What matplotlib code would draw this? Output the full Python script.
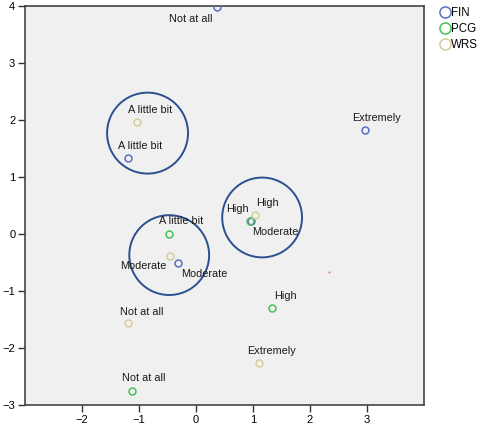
import matplotlib
matplotlib.use("Agg")
import matplotlib.pyplot as plt
from matplotlib.patches import Circle
from matplotlib.lines import Line2D

plt.rcParams['font.family'] = ['Liberation Sans', 'DejaVu Sans']

# Category points per variable (dimension 1, dimension 2)
fin_x = [0.36, 2.96, -1.20, -0.32, 0.96]
fin_y = [3.98, 1.82, 1.33, -0.50, 0.23]
pcg_x = [-0.48, 0.94, 1.34, -1.12]
pcg_y = [0.00, 0.23, -1.30, -2.75]
wrs_x = [-1.04, 1.04, -0.45, -1.19, 1.10]
wrs_y = [1.96, 0.34, -0.38, -1.57, -2.27]

# Category labels and their positions
label_text = ["Not at all", "Extremely", "A little bit", "A little bit", "A little bit",
              "High", "High", "Moderate", "Moderate", "Moderate",
              "High", "Not at all", "Extremely", "Not at all"]
label_x = [-0.10, 3.16, -0.81, -0.98, -0.26, 0.72, 1.26, 1.39, -0.93, 0.15,
           1.57, -0.96, 1.33, -0.91]
label_y = [3.77, 2.03, 2.18, 1.55, 0.23, 0.43, 0.55, 0.03, -0.57, -0.70,
           -1.08, -1.36, -2.05, -2.53]

# Cluster outlines (center x, center y, radius)
cluster_x = [-0.85, 1.16, -0.47]
cluster_y = [1.77, 0.29, -0.37]
cluster_r = [0.71, 0.70, 0.70]

series = [("FIN", fin_x, fin_y, "#5b6fc4"),
          ("PCG", pcg_x, pcg_y, "#45c157"),
          ("WRS", wrs_x, wrs_y, "#d9cc9c")]

fig = plt.figure(figsize=(4.82, 4.30), dpi=100)
ax = fig.add_axes([25/482, 25/430, 399/482, 399/430])
ax.set_facecolor("#f0f0f0")

for name, xs, ys, col in series:
    ax.plot(xs, ys, linestyle="none", marker="o", markersize=5,
            markerfacecolor="none", markeredgecolor=col, markeredgewidth=1.1,
            zorder=3)

for cx, cy, r in zip(cluster_x, cluster_y, cluster_r):
    ax.add_patch(Circle((cx, cy), r, fill=False, edgecolor="#2b4f91",
                        linewidth=1.4, zorder=2))

for t, x, y in zip(label_text, label_x, label_y):
    ax.text(x, y, t, ha="center", va="center", fontsize=7.8, color="#1a1a1a",
            zorder=4)

ax.plot([2.33], [-0.66], marker="s", markersize=1.2, color="#ff5555",
        markeredgewidth=0, linestyle="none")

ax.set_xlim(-3, 4)
ax.set_ylim(-3, 4)
ax.set_xticks([-2, -1, 0, 1, 2, 3])
ax.set_yticks([-3, -2, -1, 0, 1, 2, 3, 4])
ax.tick_params(direction="out", length=5, width=1, color="#333333",
               labelsize=8, pad=2)
for s in ax.spines.values():
    s.set_color("#444444")
    s.set_linewidth(1.2)

handles = [Line2D([], [], linestyle="none", marker="o", markersize=8,
                  markerfacecolor="none", markeredgecolor=col,
                  markeredgewidth=1.1, label=name)
           for name, xs, ys, col in series]
fig.legend(handles=handles, loc="upper left", bbox_to_anchor=(441/482, 1 - 7/430),
           frameon=False, fontsize=8.3, handlelength=0.7, handletextpad=0.2,
           labelspacing=0.35, borderaxespad=0, borderpad=0)

fig.savefig("out.png", dpi=100)
